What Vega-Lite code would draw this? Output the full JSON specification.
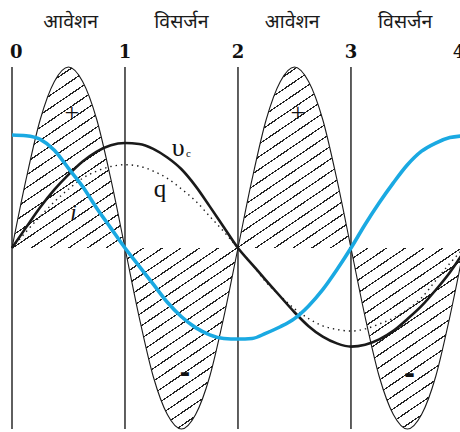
{
  "$schema": "https://vega.github.io/schema/vega-lite/v6.json",
  "width": 448,
  "height": 362,
  "autosize": "none",
  "padding": {"left": 12, "top": 67, "right": 0, "bottom": 3},
  "background": "white",
  "config": {"view": {"stroke": null}, "axis": {"disable": true}},
  "datasets": {
    "curves": [
      {"x": 0, "p": 0, "i": 0.624, "v": 0, "q": 0},
      {"x": 0.125, "p": 0.38, "i": 0.62, "v": 0.114, "q": 0.09},
      {"x": 0.25, "p": 0.71, "i": 0.6, "v": 0.225, "q": 0.175},
      {"x": 0.375, "p": 0.92, "i": 0.54, "v": 0.322, "q": 0.255},
      {"x": 0.5, "p": 1, "i": 0.44, "v": 0.405, "q": 0.325},
      {"x": 0.625, "p": 0.92, "i": 0.34, "v": 0.478, "q": 0.385},
      {"x": 0.75, "p": 0.71, "i": 0.22, "v": 0.533, "q": 0.425},
      {"x": 0.875, "p": 0.38, "i": 0.11, "v": 0.568, "q": 0.45},
      {"x": 1, "p": 0, "i": 0, "v": 0.58, "q": 0.46},
      {"x": 1.125, "p": -0.38, "i": -0.1, "v": 0.575, "q": 0.452},
      {"x": 1.25, "p": -0.71, "i": -0.2, "v": 0.548, "q": 0.425},
      {"x": 1.375, "p": -0.92, "i": -0.3, "v": 0.5, "q": 0.385},
      {"x": 1.5, "p": -1, "i": -0.38, "v": 0.435, "q": 0.326},
      {"x": 1.625, "p": -0.92, "i": -0.44, "v": 0.342, "q": 0.26},
      {"x": 1.75, "p": -0.71, "i": -0.48, "v": 0.23, "q": 0.175},
      {"x": 1.875, "p": -0.38, "i": -0.5, "v": 0.115, "q": 0.09},
      {"x": 2, "p": 0, "i": -0.503, "v": 0, "q": 0},
      {"x": 2.125, "p": 0.38, "i": -0.5, "v": -0.09, "q": -0.09},
      {"x": 2.25, "p": 0.71, "i": -0.47, "v": -0.18, "q": -0.19},
      {"x": 2.375, "p": 0.92, "i": -0.435, "v": -0.268, "q": -0.265},
      {"x": 2.5, "p": 1, "i": -0.39, "v": -0.355, "q": -0.335},
      {"x": 2.625, "p": 0.92, "i": -0.32, "v": -0.432, "q": -0.39},
      {"x": 2.75, "p": 0.71, "i": -0.23, "v": -0.49, "q": -0.43},
      {"x": 2.875, "p": 0.38, "i": -0.12, "v": -0.527, "q": -0.45},
      {"x": 3, "p": 0, "i": 0, "v": -0.545, "q": -0.459},
      {"x": 3.125, "p": -0.38, "i": 0.13, "v": -0.535, "q": -0.447},
      {"x": 3.25, "p": -0.71, "i": 0.25, "v": -0.505, "q": -0.42},
      {"x": 3.375, "p": -0.92, "i": 0.36, "v": -0.458, "q": -0.387},
      {"x": 3.5, "p": -1, "i": 0.46, "v": -0.392, "q": -0.34},
      {"x": 3.625, "p": -0.92, "i": 0.535, "v": -0.32, "q": -0.275},
      {"x": 3.75, "p": -0.71, "i": 0.58, "v": -0.232, "q": -0.18},
      {"x": 3.875, "p": -0.38, "i": 0.61, "v": -0.135, "q": -0.085},
      {"x": 4, "p": 0, "i": 0.62, "v": -0.02, "q": 0}
    ]
  },
  "layer": [
    {
      "data": {"name": "curves"},
      "mark": {
        "type": "area",
        "interpolate": "monotone",
        "opacity": 1,
        "fillOpacity": 1,
        "fill": {
          "gradient": "linear",
          "x1": 0, "y1": 0, "x2": 0.912, "y2": 1.0744,
          "stops": [
            {"offset": 0, "color": "white"},
            {"offset": 0.004, "color": "white"}, {"offset": 0.004, "color": "#222"}, {"offset": 0.0062, "color": "#222"}, {"offset": 0.0062, "color": "white"},
            {"offset": 0.023, "color": "white"}, {"offset": 0.023, "color": "#222"}, {"offset": 0.0252, "color": "#222"}, {"offset": 0.0252, "color": "white"},
            {"offset": 0.042, "color": "white"}, {"offset": 0.042, "color": "#222"}, {"offset": 0.0442, "color": "#222"}, {"offset": 0.0442, "color": "white"},
            {"offset": 0.061, "color": "white"}, {"offset": 0.061, "color": "#222"}, {"offset": 0.0632, "color": "#222"}, {"offset": 0.0632, "color": "white"},
            {"offset": 0.08, "color": "white"}, {"offset": 0.08, "color": "#222"}, {"offset": 0.0822, "color": "#222"}, {"offset": 0.0822, "color": "white"},
            {"offset": 0.099, "color": "white"}, {"offset": 0.099, "color": "#222"}, {"offset": 0.1012, "color": "#222"}, {"offset": 0.1012, "color": "white"},
            {"offset": 0.118, "color": "white"}, {"offset": 0.118, "color": "#222"}, {"offset": 0.1202, "color": "#222"}, {"offset": 0.1202, "color": "white"},
            {"offset": 0.137, "color": "white"}, {"offset": 0.137, "color": "#222"}, {"offset": 0.1392, "color": "#222"}, {"offset": 0.1392, "color": "white"},
            {"offset": 0.156, "color": "white"}, {"offset": 0.156, "color": "#222"}, {"offset": 0.1582, "color": "#222"}, {"offset": 0.1582, "color": "white"},
            {"offset": 0.175, "color": "white"}, {"offset": 0.175, "color": "#222"}, {"offset": 0.1772, "color": "#222"}, {"offset": 0.1772, "color": "white"},
            {"offset": 0.194, "color": "white"}, {"offset": 0.194, "color": "#222"}, {"offset": 0.1962, "color": "#222"}, {"offset": 0.1962, "color": "white"},
            {"offset": 0.213, "color": "white"}, {"offset": 0.213, "color": "#222"}, {"offset": 0.2152, "color": "#222"}, {"offset": 0.2152, "color": "white"},
            {"offset": 0.232, "color": "white"}, {"offset": 0.232, "color": "#222"}, {"offset": 0.2342, "color": "#222"}, {"offset": 0.2342, "color": "white"},
            {"offset": 0.251, "color": "white"}, {"offset": 0.251, "color": "#222"}, {"offset": 0.2532, "color": "#222"}, {"offset": 0.2532, "color": "white"},
            {"offset": 0.27, "color": "white"}, {"offset": 0.27, "color": "#222"}, {"offset": 0.2722, "color": "#222"}, {"offset": 0.2722, "color": "white"},
            {"offset": 0.289, "color": "white"}, {"offset": 0.289, "color": "#222"}, {"offset": 0.2912, "color": "#222"}, {"offset": 0.2912, "color": "white"},
            {"offset": 0.308, "color": "white"}, {"offset": 0.308, "color": "#222"}, {"offset": 0.3102, "color": "#222"}, {"offset": 0.3102, "color": "white"},
            {"offset": 0.327, "color": "white"}, {"offset": 0.327, "color": "#222"}, {"offset": 0.3292, "color": "#222"}, {"offset": 0.3292, "color": "white"},
            {"offset": 0.346, "color": "white"}, {"offset": 0.346, "color": "#222"}, {"offset": 0.3482, "color": "#222"}, {"offset": 0.3482, "color": "white"},
            {"offset": 0.365, "color": "white"}, {"offset": 0.365, "color": "#222"}, {"offset": 0.3672, "color": "#222"}, {"offset": 0.3672, "color": "white"},
            {"offset": 0.384, "color": "white"}, {"offset": 0.384, "color": "#222"}, {"offset": 0.3862, "color": "#222"}, {"offset": 0.3862, "color": "white"},
            {"offset": 0.403, "color": "white"}, {"offset": 0.403, "color": "#222"}, {"offset": 0.4052, "color": "#222"}, {"offset": 0.4052, "color": "white"},
            {"offset": 0.422, "color": "white"}, {"offset": 0.422, "color": "#222"}, {"offset": 0.4242, "color": "#222"}, {"offset": 0.4242, "color": "white"},
            {"offset": 0.441, "color": "white"}, {"offset": 0.441, "color": "#222"}, {"offset": 0.4432, "color": "#222"}, {"offset": 0.4432, "color": "white"},
            {"offset": 0.46, "color": "white"}, {"offset": 0.46, "color": "#222"}, {"offset": 0.4622, "color": "#222"}, {"offset": 0.4622, "color": "white"},
            {"offset": 0.479, "color": "white"}, {"offset": 0.479, "color": "#222"}, {"offset": 0.4812, "color": "#222"}, {"offset": 0.4812, "color": "white"},
            {"offset": 0.498, "color": "white"}, {"offset": 0.498, "color": "#222"}, {"offset": 0.5002, "color": "#222"}, {"offset": 0.5002, "color": "white"},
            {"offset": 0.517, "color": "white"}, {"offset": 0.517, "color": "#222"}, {"offset": 0.5192, "color": "#222"}, {"offset": 0.5192, "color": "white"},
            {"offset": 0.536, "color": "white"}, {"offset": 0.536, "color": "#222"}, {"offset": 0.5382, "color": "#222"}, {"offset": 0.5382, "color": "white"},
            {"offset": 0.555, "color": "white"}, {"offset": 0.555, "color": "#222"}, {"offset": 0.5572, "color": "#222"}, {"offset": 0.5572, "color": "white"},
            {"offset": 0.574, "color": "white"}, {"offset": 0.574, "color": "#222"}, {"offset": 0.5762, "color": "#222"}, {"offset": 0.5762, "color": "white"},
            {"offset": 0.593, "color": "white"}, {"offset": 0.593, "color": "#222"}, {"offset": 0.5952, "color": "#222"}, {"offset": 0.5952, "color": "white"},
            {"offset": 0.612, "color": "white"}, {"offset": 0.612, "color": "#222"}, {"offset": 0.6142, "color": "#222"}, {"offset": 0.6142, "color": "white"},
            {"offset": 0.631, "color": "white"}, {"offset": 0.631, "color": "#222"}, {"offset": 0.6332, "color": "#222"}, {"offset": 0.6332, "color": "white"},
            {"offset": 0.65, "color": "white"}, {"offset": 0.65, "color": "#222"}, {"offset": 0.6522, "color": "#222"}, {"offset": 0.6522, "color": "white"},
            {"offset": 0.669, "color": "white"}, {"offset": 0.669, "color": "#222"}, {"offset": 0.6712, "color": "#222"}, {"offset": 0.6712, "color": "white"},
            {"offset": 0.688, "color": "white"}, {"offset": 0.688, "color": "#222"}, {"offset": 0.6902, "color": "#222"}, {"offset": 0.6902, "color": "white"},
            {"offset": 0.707, "color": "white"}, {"offset": 0.707, "color": "#222"}, {"offset": 0.7092, "color": "#222"}, {"offset": 0.7092, "color": "white"},
            {"offset": 0.726, "color": "white"}, {"offset": 0.726, "color": "#222"}, {"offset": 0.7282, "color": "#222"}, {"offset": 0.7282, "color": "white"},
            {"offset": 0.745, "color": "white"}, {"offset": 0.745, "color": "#222"}, {"offset": 0.7472, "color": "#222"}, {"offset": 0.7472, "color": "white"},
            {"offset": 0.764, "color": "white"}, {"offset": 0.764, "color": "#222"}, {"offset": 0.7662, "color": "#222"}, {"offset": 0.7662, "color": "white"},
            {"offset": 0.783, "color": "white"}, {"offset": 0.783, "color": "#222"}, {"offset": 0.7852, "color": "#222"}, {"offset": 0.7852, "color": "white"},
            {"offset": 0.802, "color": "white"}, {"offset": 0.802, "color": "#222"}, {"offset": 0.8042, "color": "#222"}, {"offset": 0.8042, "color": "white"},
            {"offset": 0.821, "color": "white"}, {"offset": 0.821, "color": "#222"}, {"offset": 0.8232, "color": "#222"}, {"offset": 0.8232, "color": "white"},
            {"offset": 0.84, "color": "white"}, {"offset": 0.84, "color": "#222"}, {"offset": 0.8422, "color": "#222"}, {"offset": 0.8422, "color": "white"},
            {"offset": 0.859, "color": "white"}, {"offset": 0.859, "color": "#222"}, {"offset": 0.8612, "color": "#222"}, {"offset": 0.8612, "color": "white"},
            {"offset": 0.878, "color": "white"}, {"offset": 0.878, "color": "#222"}, {"offset": 0.8802, "color": "#222"}, {"offset": 0.8802, "color": "white"},
            {"offset": 0.897, "color": "white"}, {"offset": 0.897, "color": "#222"}, {"offset": 0.8992, "color": "#222"}, {"offset": 0.8992, "color": "white"},
            {"offset": 0.916, "color": "white"}, {"offset": 0.916, "color": "#222"}, {"offset": 0.9182, "color": "#222"}, {"offset": 0.9182, "color": "white"},
            {"offset": 0.935, "color": "white"}, {"offset": 0.935, "color": "#222"}, {"offset": 0.9372, "color": "#222"}, {"offset": 0.9372, "color": "white"},
            {"offset": 0.954, "color": "white"}, {"offset": 0.954, "color": "#222"}, {"offset": 0.9562, "color": "#222"}, {"offset": 0.9562, "color": "white"},
            {"offset": 0.973, "color": "white"}, {"offset": 0.973, "color": "#222"}, {"offset": 0.9752, "color": "#222"}, {"offset": 0.9752, "color": "white"},
            {"offset": 0.992, "color": "white"}, {"offset": 0.992, "color": "#222"}, {"offset": 0.9942, "color": "#222"}, {"offset": 0.9942, "color": "white"},
            {"offset": 1, "color": "white"}
          ]
        }
      },
      "encoding": {
        "x": {"field": "x", "type": "quantitative", "scale": {"domain": [0, 3.965], "nice": false, "zero": false}, "axis": null},
        "y": {"field": "p", "type": "quantitative", "scale": {"domain": [-1, 1], "nice": false}, "axis": null}
      }
    },
    {
      "mark": {"type": "rule", "color": "#858585", "strokeWidth": 2},
      "encoding": {"y": {"datum": 0}}
    },
    {
      "data": {"values": [{"x": 0}, {"x": 1}, {"x": 2}, {"x": 3}]},
      "mark": {"type": "rule", "color": "#2a2a2a", "strokeWidth": 1.5},
      "encoding": {"x": {"field": "x", "type": "quantitative"}}
    },
    {
      "mark": {"type": "rule", "color": "#1a1a1a", "strokeWidth": 1.5},
      "encoding": {"y": {"datum": 1}}
    },
    {
      "mark": {"type": "rule", "color": "#1a1a1a", "strokeWidth": 1.5},
      "encoding": {"y": {"datum": -1}}
    },
    {
      "data": {"name": "curves"},
      "mark": {"type": "line", "interpolate": "monotone", "color": "#1a1a1a", "strokeWidth": 1.1},
      "encoding": {
        "x": {"field": "x", "type": "quantitative"},
        "y": {"field": "p", "type": "quantitative"}
      }
    },
    {
      "data": {"name": "curves"},
      "mark": {"type": "line", "interpolate": "monotone", "color": "#1a1a1a", "strokeWidth": 1.4, "strokeDash": [1.4, 4]},
      "encoding": {
        "x": {"field": "x", "type": "quantitative"},
        "y": {"field": "q", "type": "quantitative"}
      }
    },
    {
      "data": {"name": "curves"},
      "mark": {"type": "line", "interpolate": "monotone", "color": "#1a1a1a", "strokeWidth": 2.6},
      "encoding": {
        "x": {"field": "x", "type": "quantitative"},
        "y": {"field": "v", "type": "quantitative"}
      }
    },
    {
      "data": {"name": "curves"},
      "mark": {"type": "line", "interpolate": "monotone", "color": "#1aa9e2", "strokeWidth": 3.6},
      "encoding": {
        "x": {"field": "x", "type": "quantitative"},
        "y": {"field": "i", "type": "quantitative"}
      }
    },
    {
      "data": {"values": [{"x": 0.52, "t": "आवेशन"}, {"x": 1.5, "t": "विसर्जन"}, {"x": 2.48, "t": "आवेशन"}, {"x": 3.48, "t": "विसर्जन"}]},
      "mark": {"type": "text", "font": "Noto Sans Devanagari, Noto Sans, sans-serif", "fontSize": 19.5, "color": "#1a1a1a", "baseline": "alphabetic", "align": "center"},
      "encoding": {
        "x": {"field": "x", "type": "quantitative"},
        "y": {"datum": 1.215},
        "text": {"field": "t"}
      }
    },
    {
      "data": {"values": [{"x": 0, "t": "0"}]},
      "mark": {"type": "text", "font": "DejaVu Serif", "fontWeight": "bold", "fontSize": 18, "color": "#111", "baseline": "alphabetic", "align": "left", "dx": -2},
      "encoding": {"x": {"field": "x", "type": "quantitative"}, "y": {"datum": 1.05}, "text": {"field": "t"}}
    },
    {
      "data": {"values": [{"x": 1, "t": "1"}, {"x": 2, "t": "2"}, {"x": 3, "t": "3"}]},
      "mark": {"type": "text", "font": "DejaVu Serif", "fontWeight": "bold", "fontSize": 18, "color": "#111", "baseline": "alphabetic", "align": "center"},
      "encoding": {"x": {"field": "x", "type": "quantitative"}, "y": {"datum": 1.05}, "text": {"field": "t"}}
    },
    {
      "data": {"values": [{"x": 4, "t": "4"}]},
      "mark": {"type": "text", "font": "DejaVu Serif", "fontWeight": "bold", "fontSize": 18, "color": "#111", "baseline": "alphabetic", "align": "center", "dx": -5},
      "encoding": {"x": {"field": "x", "type": "quantitative"}, "y": {"datum": 1.05}, "text": {"field": "t"}}
    },
    {
      "data": {"values": [{"x": 0.53, "y": 0.746, "t": "+"}, {"x": 2.53, "y": 0.746, "t": "+"}]},
      "mark": {"type": "text", "font": "Liberation Serif", "fontSize": 26, "color": "#111", "baseline": "middle", "align": "center"},
      "encoding": {"x": {"field": "x", "type": "quantitative"}, "y": {"field": "y", "type": "quantitative"}, "text": {"field": "t"}}
    },
    {
      "data": {"values": [{"x": 1.53, "y": -0.696, "t": "-"}, {"x": 3.52, "y": -0.7, "t": "-"}]},
      "mark": {"type": "text", "font": "DejaVu Sans", "fontWeight": "bold", "fontSize": 26, "color": "#111", "baseline": "middle", "align": "center"},
      "encoding": {"x": {"field": "x", "type": "quantitative"}, "y": {"field": "y", "type": "quantitative"}, "text": {"field": "t"}}
    },
    {
      "data": {"values": [{"x": 1.47, "y": 0.55, "t": "υ"}]},
      "mark": {"type": "text", "font": "Liberation Serif", "fontSize": 26, "color": "#111", "baseline": "middle", "align": "center"},
      "encoding": {"x": {"field": "x", "type": "quantitative"}, "y": {"field": "y", "type": "quantitative"}, "text": {"field": "t"}}
    },
    {
      "data": {"values": [{"x": 1.562, "y": 0.52, "t": "c"}]},
      "mark": {"type": "text", "font": "Liberation Serif", "fontSize": 11, "color": "#111", "baseline": "middle", "align": "center"},
      "encoding": {"x": {"field": "x", "type": "quantitative"}, "y": {"field": "y", "type": "quantitative"}, "text": {"field": "t"}}
    },
    {
      "data": {"values": [{"x": 1.31, "y": 0.282, "t": "q"}]},
      "mark": {"type": "text", "font": "Liberation Serif", "fontSize": 25, "color": "#111", "baseline": "alphabetic", "align": "center"},
      "encoding": {"x": {"field": "x", "type": "quantitative"}, "y": {"field": "y", "type": "quantitative"}, "text": {"field": "t"}}
    },
    {
      "data": {"values": [{"x": 0.544, "y": 0.155, "t": "i"}]},
      "mark": {"type": "text", "font": "Liberation Serif", "fontStyle": "italic", "fontSize": 23, "color": "#111", "baseline": "alphabetic", "align": "center"},
      "encoding": {"x": {"field": "x", "type": "quantitative"}, "y": {"field": "y", "type": "quantitative"}, "text": {"field": "t"}}
    }
  ]
}
